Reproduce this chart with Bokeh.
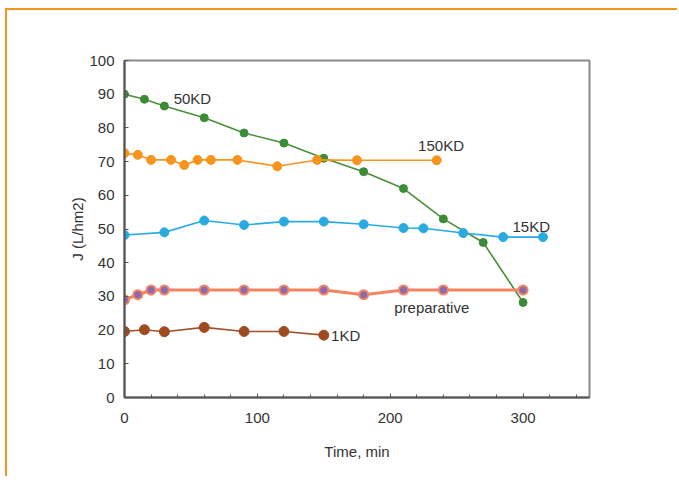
from bokeh.plotting import figure
from bokeh.models import FixedTicker, Label
from bokeh.embed import file_html
from bokeh.resources import INLINE

# --- data ---
t_50kd = [0, 15, 30, 60, 90, 120, 150, 180, 210, 240, 270, 300]
j_50kd = [90, 88.5, 86.5, 83, 78.5, 75.5, 71, 67, 62, 53, 46, 28.2]

t_150kd = [0, 10, 20, 35, 45, 55, 65, 85, 115, 145, 175, 235]
j_150kd = [72.5, 72, 70.5, 70.5, 69, 70.5, 70.5, 70.5, 68.6, 70.5, 70.4, 70.4]

t_15kd = [0, 30, 60, 90, 120, 150, 180, 210, 225, 255, 285, 315]
j_15kd = [48.2, 49, 52.5, 51.2, 52.2, 52.2, 51.4, 50.3, 50.2, 48.8, 47.6, 47.6]

t_prep = [0, 10, 20, 30, 60, 90, 120, 150, 180, 210, 240, 300]
j_prep = [29, 30.5, 31.9, 31.9, 31.9, 31.9, 31.9, 31.9, 30.5, 31.9, 31.9, 31.9]

t_1kd = [0, 15, 30, 60, 90, 120, 150]
j_1kd = [19.6, 20.1, 19.5, 20.8, 19.6, 19.6, 18.5]

series_labels = ["50KD", "150KD", "15KD", "preparative", "1KD"]
label_t = [37, 221, 292, 203, 155.5]
label_j = [88.8, 74.8, 50.7, 26.7, 18.4]

x_ticks = [0, 100, 200, 300]
y_ticks = [0, 10, 20, 30, 40, 50, 60, 70, 80, 90, 100]

FONT = "Liberation Sans"
TXT = "#333333"

p = figure(width=672, height=468, x_range=(0, 350), y_range=(0, 100),
           output_backend="svg", toolbar_location=None,
           min_border_left=117, min_border_right=90,
           min_border_top=50, min_border_bottom=81)
p.styles = {"border-top": "2px solid #F7941D", "border-left": "2px solid #F7941D",
            "margin-left": "5px", "margin-top": "8px"}
p.background_fill_color = "white"
p.border_fill_color = "white"
p.grid.visible = False
p.outline_line_color = "#8a8a8a"
p.outline_line_width = 2

# axes
p.xaxis.ticker = FixedTicker(ticks=x_ticks, minor_ticks=list(range(0, 351, 20)))
p.yaxis.ticker = FixedTicker(ticks=y_ticks)
for ax in (p.xaxis, p.yaxis):
    ax.axis_line_color = "#555555"
    ax.axis_line_width = 2
    ax.major_tick_in = 4
    ax.major_tick_out = 0
    ax.minor_tick_in = 3
    ax.minor_tick_out = 0
    ax.major_tick_line_color = "#555555"
    ax.minor_tick_line_color = "#555555"
    ax.major_label_text_font = FONT
    ax.major_label_text_font_size = "15px"
    ax.major_label_text_color = TXT
    ax.axis_label_text_font = FONT
    ax.axis_label_text_font_size = "15px"
    ax.axis_label_text_font_style = "normal"
    ax.axis_label_text_color = TXT
p.yaxis.minor_tick_line_color = None
p.xaxis.major_label_standoff = 15
p.yaxis.major_label_standoff = 10
p.xaxis.axis_label = "Time, min"
p.yaxis.axis_label = "J (L/hm2)"
p.xaxis.axis_label_standoff = 17
p.yaxis.axis_label_standoff = 0

# series
p.line(t_50kd, j_50kd, line_color="#4a8f3a", line_width=1.6)
p.scatter(t_50kd, j_50kd, size=8, fill_color="#3d8b37", line_color="#3d8b37")

p.line(t_150kd, j_150kd, line_color="#F7941D", line_width=1.6)
p.scatter(t_150kd, j_150kd, size=9, fill_color="#F7941D", line_color="#F7941D")

p.line(t_15kd, j_15kd, line_color="#29ABE2", line_width=1.6)
p.scatter(t_15kd, j_15kd, size=9, fill_color="#29ABE2", line_color="#29ABE2")

p.line(t_prep, j_prep, line_color="#F4845F", line_width=3)
p.scatter(t_prep, j_prep, size=9, fill_color="#8B6BB0", line_color="#F4845F", line_width=2)

p.line(t_1kd, j_1kd, line_color="#A0522D", line_width=1.6)
p.scatter(t_1kd, j_1kd, size=10, fill_color="#A04A22", line_color="#A04A22")

for txt, tx, ty in zip(series_labels, label_t, label_j):
    p.add_layout(Label(x=tx, y=ty, text=txt, text_font=FONT, text_font_size="15px",
                       text_color=TXT, text_baseline="middle", text_align="left"))

open("out.html", "w").write(file_html(p, INLINE))
